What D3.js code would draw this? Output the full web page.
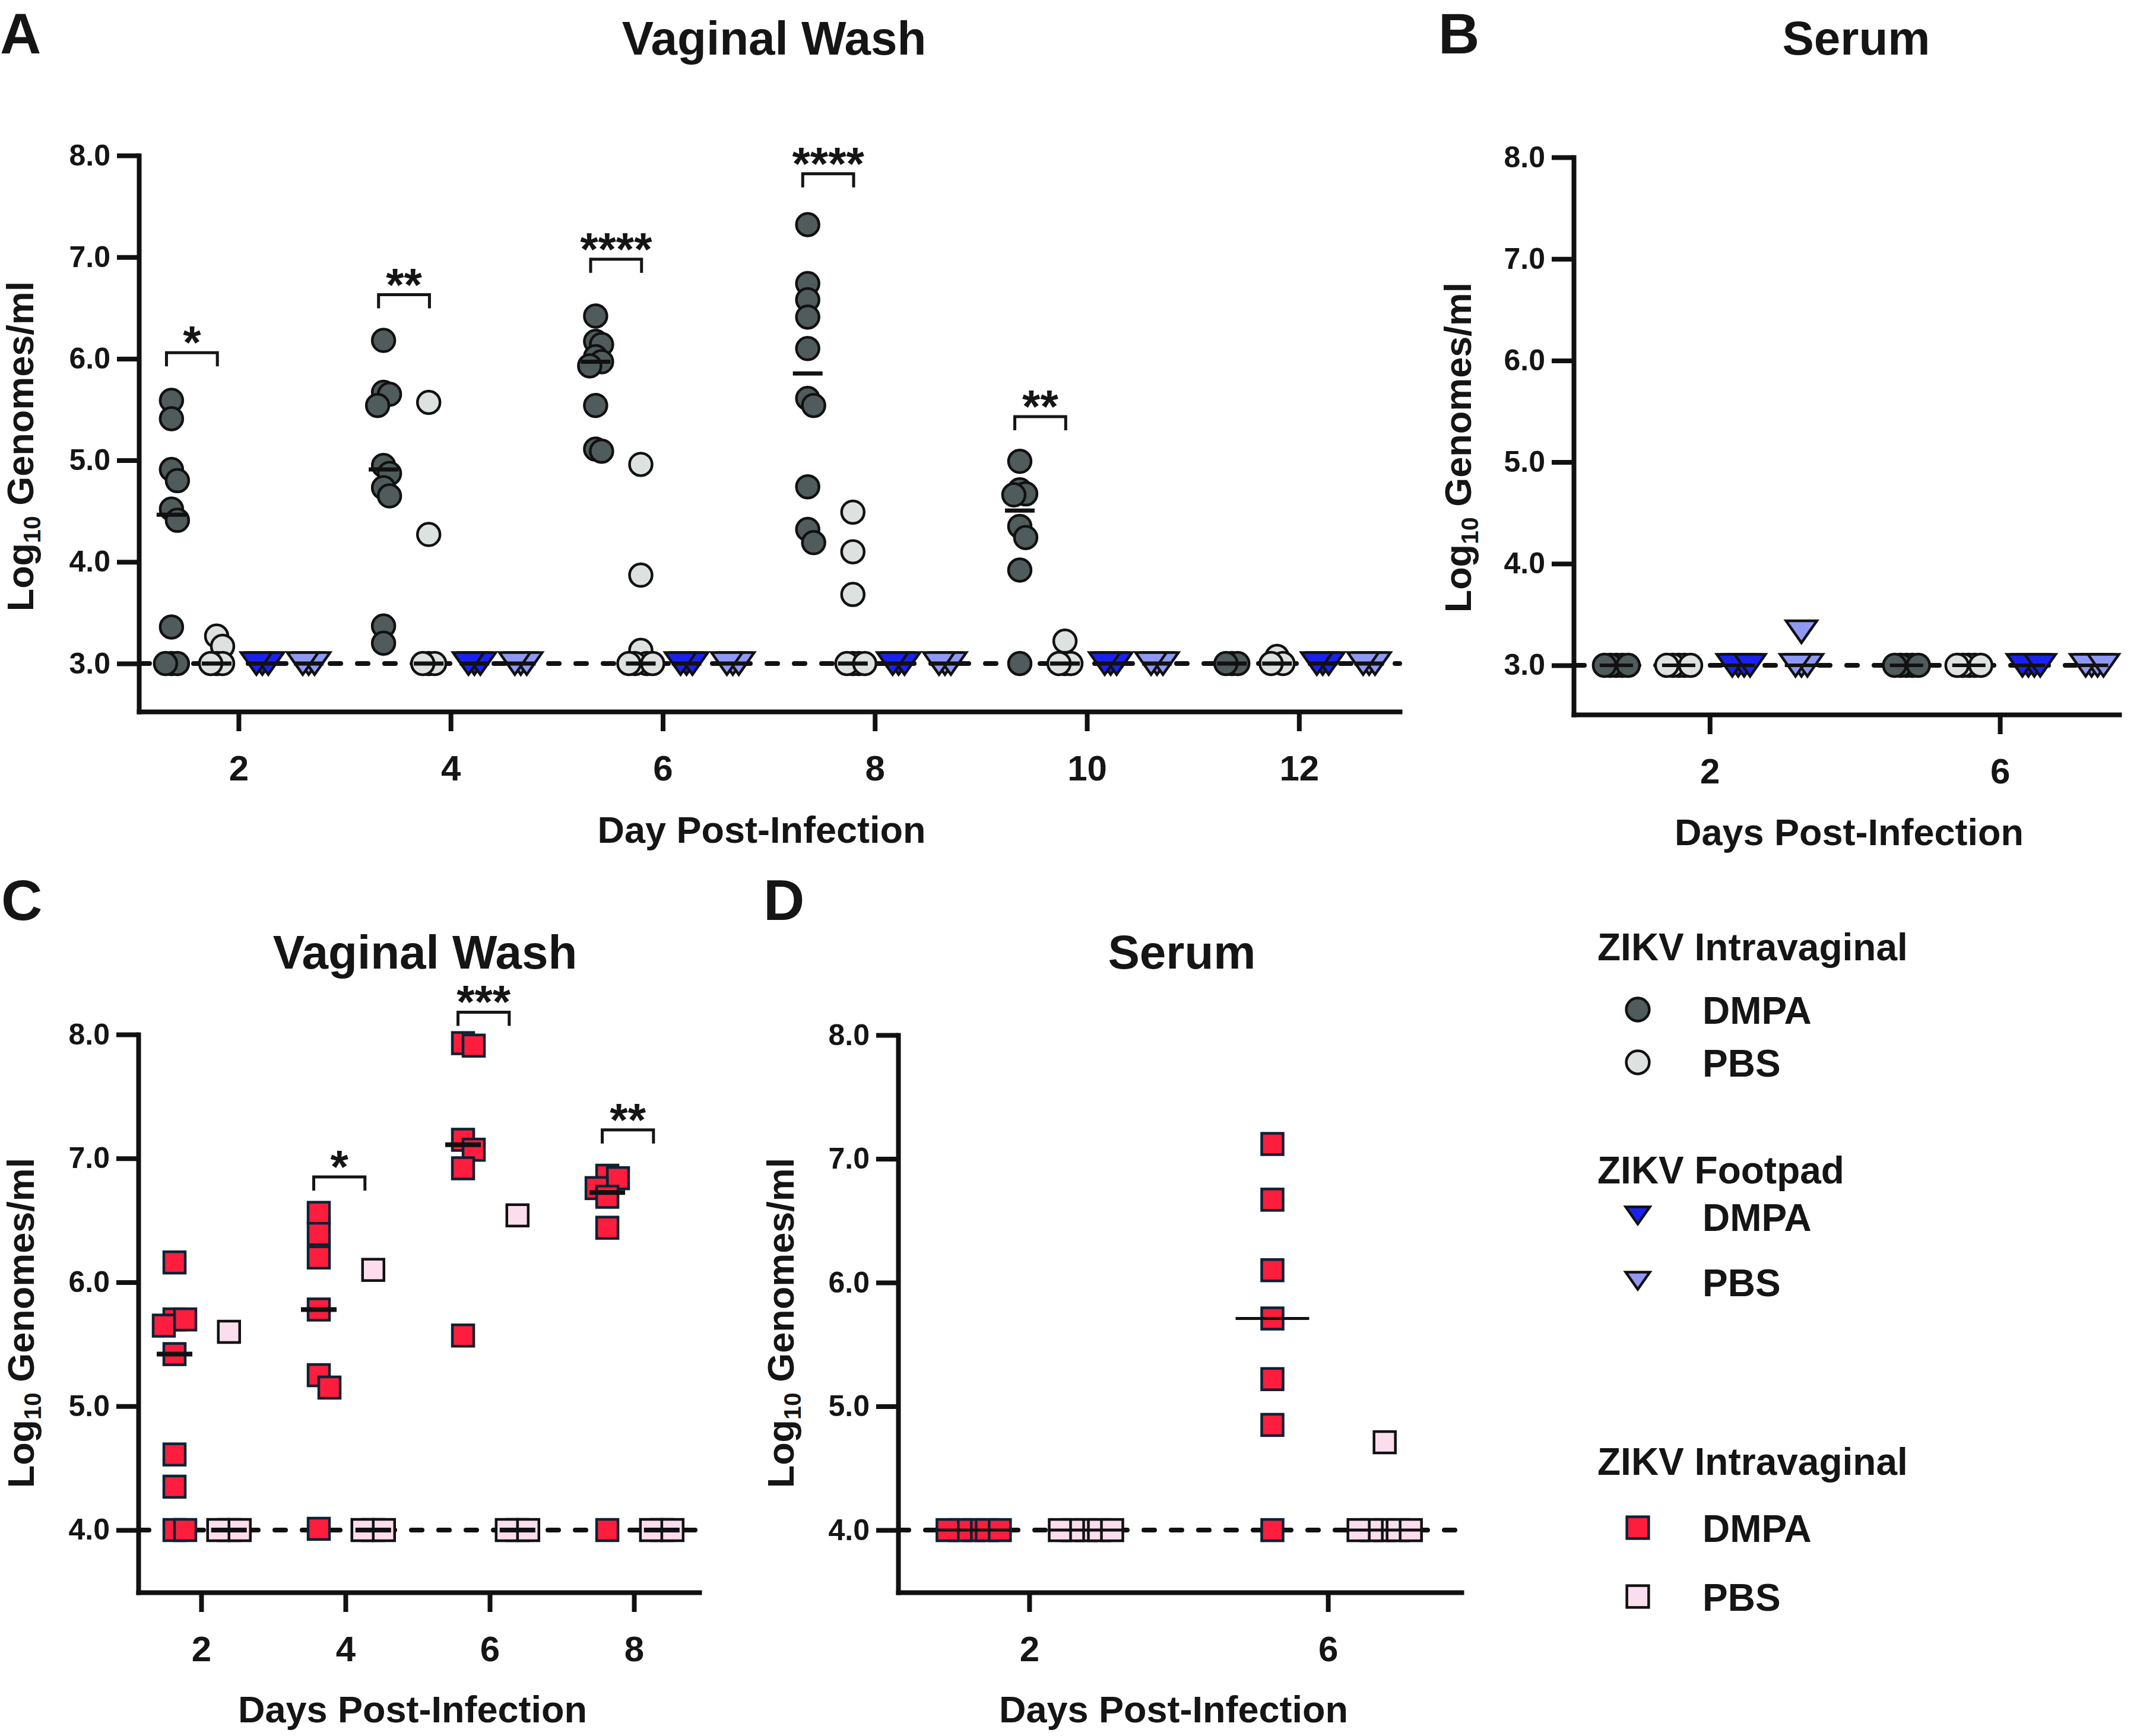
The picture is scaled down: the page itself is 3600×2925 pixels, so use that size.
<!DOCTYPE html>
<html><head><meta charset="utf-8">
<script src="https://cdn.jsdelivr.net/npm/d3@7"></script>
<style>
body{margin:0;background:#fff}
svg{display:block}
text{font-family:"Liberation Sans",Arial,Helvetica,sans-serif;font-weight:bold;fill:#151515}
</style>
</head><body>
<script>
// ---------------- DATA ----------------
// Panel A: vaginal wash, days post-infection
const daysA = [2, 4, 6, 8, 10, 12];
const vwIvagDmpa = [
  [5.59, 5.41, 4.91, 4.80, 4.52, 4.41, 3.36, 3.0, 3.0, 3.0],
  [6.18, 5.67, 5.65, 5.54, 4.95, 4.87, 4.73, 4.65, 3.37, 3.20],
  [6.42, 6.17, 6.14, 6.02, 5.97, 5.93, 5.54, 5.11, 5.09],
  [7.32, 6.74, 6.58, 6.41, 6.10, 5.61, 5.54, 4.74, 4.32, 4.19],
  [4.99, 4.71, 4.67, 4.66, 4.35, 4.24, 3.92, 3.0],
  [3.0, 3.0, 3.0]
];
const vwIvagPbs = [
  [3.27, 3.17, 3.0, 3.0, 3.0],
  [5.57, 4.27, 3.0, 3.0, 3.0],
  [4.96, 3.87, 3.13, 3.0, 3.0, 3.0, 3.0],
  [4.49, 4.10, 3.68, 3.0, 3.0, 3.0, 3.0],
  [3.22, 3.0, 3.0, 3.0],
  [3.07, 3.0, 3.0]
];
const vwFootDmpa = [
  [3.0, 3.0, 3.0], [3.0, 3.0, 3.0], [3.0, 3.0, 3.0],
  [3.0, 3.0, 3.0], [3.0, 3.0, 3.0], [3.0, 3.0, 3.0]
];
const vwFootPbs = [
  [3.0, 3.0, 3.0], [3.0, 3.0, 3.0], [3.0, 3.0, 3.0],
  [3.0, 3.0, 3.0], [3.0, 3.0, 3.0], [3.0, 3.0, 3.0]
];
const sigDaysA = [2, 4, 6, 8, 10];
const sigTopA  = [6.06, 6.63, 6.98, 7.82, 5.43];
const sigTextA = ["*", "**", "****", "****", "**"];
const detectionA = 3.0;

// Panel B: serum
const daysB = ["2", "6"];
const seIvagDmpa = [[3.0, 3.0, 3.0, 3.0, 3.0], [3.0, 3.0, 3.0, 3.0, 3.0]];
const seIvagPbs  = [[3.0, 3.0, 3.0, 3.0, 3.0], [3.0, 3.0, 3.0, 3.0, 3.0]];
const seFootDmpa = [[3.0, 3.0, 3.0, 3.0], [3.0, 3.0, 3.0, 3.0]];
const seFootPbs  = [[3.33, 3.0, 3.0, 3.0], [3.0, 3.0, 3.0, 3.0]];
const detectionB = 3.0;

// Panel C: vaginal wash (second cohort)
const daysC = [2, 4, 6, 8];
const vw2Dmpa = [
  [6.16, 5.70, 5.70, 5.65, 5.42, 4.61, 4.35, 4.0, 4.0],
  [6.56, 6.39, 6.20, 5.78, 5.25, 5.15, 4.01],
  [7.93, 7.91, 7.15, 7.07, 6.92, 5.57],
  [6.86, 6.84, 6.76, 6.69, 6.44, 4.0]
];
const vw2Pbs = [
  [5.60, 4.0, 4.0, 4.0],
  [6.10, 4.0, 4.0, 4.0],
  [6.54, 4.0, 4.0, 4.0],
  [4.0, 4.0, 4.0]
];
const sigDaysC = [4, 6, 8];
const sigTopC  = [6.85, 8.18, 7.23];
const sigTextC = ["*", "***", "**"];
const detectionC = 4.0;

// Panel D: serum (second cohort)
const daysD = ["2", "6"];
const se2Dmpa = [[4.0, 4.0, 4.0, 4.0, 4.0], [7.12, 6.67, 6.10, 5.71, 5.22, 4.85, 4.0]];
const se2Pbs  = [[4.0, 4.0, 4.0, 4.0, 4.0], [4.71, 4.0, 4.0, 4.0, 4.0, 4.0]];
const detectionD = 4.0;

const yTicksAB = [3, 4, 5, 6, 7, 8];
const yTicksCD = [4, 5, 6, 7, 8];

const legendHeads = ["ZIKV Intravaginal", "ZIKV Footpad", "ZIKV Intravaginal"];
const legendItems = ["DMPA", "PBS", "DMPA", "PBS", "DMPA", "PBS"];

// ---------------- STYLE ----------------
const C = {
  dark:  {fill: "#505b5b", stroke: "#111"},
  light: {fill: "#dde1e0", stroke: "#111"},
  blue:  {fill: "#1b22ee", stroke: "#111"},
  lblue: {fill: "#8f99f5", stroke: "#111"},
  red:   {fill: "#ff1d3d", stroke: "#0c2235"},
  pink:  {fill: "#fcdded", stroke: "#111"}
};

const W = 3600, H = 2925;
const svg = d3.select("body").append("svg").attr("width", W).attr("height", H)
  .attr("viewBox", `0 0 ${W} ${H}`);
svg.append("rect").attr("width", W).attr("height", H).attr("fill", "#fff");

function drawMarker(g, shape, style, cx, cy, scale = 1) {
  if (shape === "circle") {
    g.append("circle").attr("cx", cx).attr("cy", cy).attr("r", 19 * scale)
      .attr("fill", style.fill).attr("stroke", style.stroke).attr("stroke-width", 4.5);
  } else if (shape === "tri") {
    const w = 26 * scale, h = 18.5 * scale;
    g.append("path").attr("d", `M${cx - w},${cy - h}L${cx + w},${cy - h}L${cx},${cy + h}Z`)
      .attr("fill", style.fill).attr("stroke", style.stroke).attr("stroke-width", 4.5)
      .attr("stroke-linejoin", "miter");
  } else {
    const s = 18 * scale;
    g.append("rect").attr("x", cx - s).attr("y", cy - s).attr("width", 2 * s).attr("height", 2 * s)
      .attr("fill", style.fill).attr("stroke", style.stroke).attr("stroke-width", 4.5);
  }
}

// horizontal spreading of overlapping points (like a scatter dot plot)
function spread(vals, y, d, tol) {
  const placed = [];
  return vals.map(v => {
    const py = y(v);
    let off = 0;
    for (let i = 0; i < 60; i++) {
      off = i === 0 ? 0 : (i % 2 === 1 ? Math.ceil(i / 2) * d : -Math.ceil(i / 2) * d);
      if (!placed.some(p => Math.abs(p.y - py) < tol && Math.abs(p.x - off) < d * 0.99)) break;
    }
    placed.push({x: off, y: py});
    return off;
  });
}

function panel(cfg) {
  const g = svg.append("g");
  const {x, y} = cfg;
  const [x0, x1] = x.range();
  const yBase = y.range()[0];

  // dashed detection line (under points)
  g.append("line").attr("x1", x0).attr("x2", x1)
    .attr("y1", y(cfg.detection)).attr("y2", y(cfg.detection))
    .attr("stroke", "#111").attr("stroke-width", 8)
    .attr("stroke-dasharray", "18 28").attr("stroke-linecap", "round");

  // points
  const medians = [];
  cfg.groups.forEach(grp => {
    grp.data.forEach((vals, i) => {
      const cx = x(cfg.pos(i) + grp.off);
      const offs = spread(vals, y, cfg.spreadD, cfg.spreadTol);
      vals.forEach((v, k) => drawMarker(g, grp.shape, grp.style, cx + offs[k], y(v)));
      medians.push({cx, m: d3.median(vals)});
    });
  });
  // median lines (on top)
  medians.forEach(md => {
    g.append("line").attr("x1", md.cx - cfg.medW / 2).attr("x2", md.cx + cfg.medW / 2)
      .attr("y1", y(md.m)).attr("y2", y(md.m))
      .attr("stroke", "#111").attr("stroke-width", cfg.medT);
  });

  // brackets
  if (cfg.sig) {
    cfg.sig.days.forEach((d, i) => {
      const xa = x(d + cfg.sig.from), xb = x(d + cfg.sig.to), yy = y(cfg.sig.top[i]);
      g.append("path").attr("d", `M${xa},${yy + 23}V${yy}H${xb}V${yy + 23}`)
        .attr("fill", "none").attr("stroke", "#151515").attr("stroke-width", 5);
      g.append("text").attr("x", (xa + xb) / 2).attr("y", yy + 10)
        .attr("text-anchor", "middle").attr("font-size", 78)
        .text(cfg.sig.text[i]);
    });
  }

  // axes
  const ya = g.append("g").attr("transform", `translate(${x0},0)`)
    .call(d3.axisLeft(y).tickValues(cfg.yTicks).tickFormat(d3.format(".1f"))
      .tickSize(37).tickSizeOuter(0).tickPadding(11));
  const xa = g.append("g").attr("transform", `translate(0,${yBase})`)
    .call(d3.axisBottom(x).tickValues(cfg.xTicks).tickFormat(cfg.xFmt)
      .tickSize(33).tickSizeOuter(0).tickPadding(40));
  [ya, xa].forEach(a => {
    a.select(".domain").attr("stroke", "#111").attr("stroke-width", 8).attr("stroke-linecap", "square");
    a.selectAll(".tick line").attr("stroke", "#111").attr("stroke-width", 8);
    a.attr("font-family", null);
  });
  ya.selectAll(".tick text").attr("font-size", 50).attr("fill", "#151515");
  xa.selectAll(".tick text").attr("font-size", 60).attr("fill", "#151515");

  // titles
  g.append("text").attr("x", cfg.title.x).attr("y", cfg.title.y).attr("text-anchor", "middle")
    .attr("font-size", 80).text(cfg.title.t);
  g.append("text").attr("x", cfg.letter.x).attr("y", cfg.letter.y)
    .attr("font-size", 96).text(cfg.letter.t);
  g.append("text").attr("x", cfg.xTitle.x).attr("y", cfg.xTitle.y).attr("text-anchor", "middle")
    .attr("font-size", 63).text(cfg.xTitle.t);
  const yt = g.append("text").attr("text-anchor", "middle").attr("font-size", 63)
    .attr("transform", `translate(${cfg.yTitle.x},${cfg.yTitle.y}) rotate(-90)`);
  yt.append("tspan").text("Log");
  yt.append("tspan").attr("font-size", 41).attr("dy", 12).text("10");
  yt.append("tspan").attr("dy", -12).text(" Genomes/ml");
}

// Panel A
panel({
  x: d3.scaleLinear().domain([1.06, 12.95]).range([234, 2358]),
  y: d3.scaleLinear().domain([2.527, 8]).range([1199, 262]),
  pos: i => daysA[i],
  xTicks: daysA, xFmt: d => d, yTicks: yTicksAB,
  detection: detectionA,
  groups: [
    {data: vwIvagDmpa, off: -0.633, shape: "circle", style: C.dark},
    {data: vwIvagPbs,  off: -0.207, shape: "circle", style: C.light},
    {data: vwFootDmpa, off: 0.224,  shape: "tri",    style: C.blue},
    {data: vwFootPbs,  off: 0.661,  shape: "tri",    style: C.lblue}
  ],
  spreadD: 10, spreadTol: 25, medW: 50, medT: 7,
  sig: {days: sigDaysA, top: sigTopA, text: sigTextA, from: -0.68, to: -0.2},
  title: {x: 1304, y: 92, t: "Vaginal Wash"},
  letter: {x: 0, y: 90, t: "A"},
  xTitle: {x: 1283, y: 1420, t: "Day Post-Infection"},
  yTitle: {x: 56, y: 752}
});

// Panel B
panel({
  x: d3.scaleLinear().domain([-0.469, 1.411]).range([2651, 3570]),
  y: d3.scaleLinear().domain([2.515, 8]).range([1204, 265]),
  pos: i => i,
  xTicks: [0, 1], xFmt: i => daysB[i], yTicks: yTicksAB,
  detection: detectionB,
  groups: [
    {data: seIvagDmpa, off: -0.322, shape: "circle", style: C.dark},
    {data: seIvagPbs,  off: -0.107, shape: "circle", style: C.light},
    {data: seFootDmpa, off: 0.098,  shape: "tri",    style: C.blue},
    {data: seFootPbs,  off: 0.316,  shape: "tri",    style: C.lblue}
  ],
  spreadD: 10, spreadTol: 25, medW: 56, medT: 6,
  title: {x: 3127, y: 92, t: "Serum"},
  letter: {x: 2423, y: 90, t: "B"},
  xTitle: {x: 3115, y: 1424, t: "Days Post-Infection"},
  yTitle: {x: 2478, y: 754}
});

// Panel C
panel({
  x: d3.scaleLinear().domain([1.128, 8.905]).range([233, 1178]),
  y: d3.scaleLinear().domain([3.497, 8]).range([2683, 1743]),
  pos: i => daysC[i],
  xTicks: daysC, xFmt: d => d, yTicks: yTicksCD,
  detection: detectionC,
  groups: [
    {data: vw2Dmpa, off: -0.37, shape: "square", style: C.red},
    {data: vw2Pbs,  off: 0.385, shape: "square", style: C.pink}
  ],
  spreadD: 18, spreadTol: 25, medW: 60, medT: 8,
  sig: {days: sigDaysC, top: sigTopC, text: sigTextC, from: -0.44, to: 0.27},
  title: {x: 716, y: 1632, t: "Vaginal Wash"},
  letter: {x: 2, y: 1550, t: "C"},
  xTitle: {x: 695, y: 2902, t: "Days Post-Infection"},
  yTitle: {x: 57, y: 2229}
});

// Panel D
panel({
  x: d3.scaleLinear().domain([-0.439, 1.447]).range([1513, 2462]),
  y: d3.scaleLinear().domain([3.497, 8]).range([2683, 1744]),
  pos: i => i,
  xTicks: [0, 1], xFmt: i => daysD[i], yTicks: yTicksCD,
  detection: detectionD,
  groups: [
    {data: se2Dmpa, off: -0.186, shape: "square", style: C.red},
    {data: se2Pbs,  off: 0.19,   shape: "square", style: C.pink}
  ],
  spreadD: 22, spreadTol: 25, medW: 124, medT: 5,
  title: {x: 1991, y: 1632, t: "Serum"},
  letter: {x: 1286, y: 1550, t: "D"},
  xTitle: {x: 1977, y: 2902, t: "Days Post-Infection"},
  yTitle: {x: 1337, y: 2229}
});

// Legend
const lg = svg.append("g");
const headY = [1618, 1994, 2485];
legendHeads.forEach((t, i) => lg.append("text").attr("x", 2691).attr("y", headY[i]).attr("font-size", 64).text(t));
const itemY = [1701, 1790, 2050, 2160, 2574, 2690];
const itemShape = ["circle", "circle", "tri", "tri", "square", "square"];
const itemStyle = [C.dark, C.light, C.blue, C.lblue, C.red, C.pink];
legendItems.forEach((t, i) => {
  drawMarker(lg, itemShape[i], itemStyle[i], 2759, itemY[i] + (itemShape[i] === "tri" ? -2 : 0), itemShape[i] === "tri" ? 0.78 : 1.02);
  lg.append("text").attr("x", 2868).attr("y", itemY[i] + 24).attr("font-size", 64).text(t);
});
</script>
</body></html>
